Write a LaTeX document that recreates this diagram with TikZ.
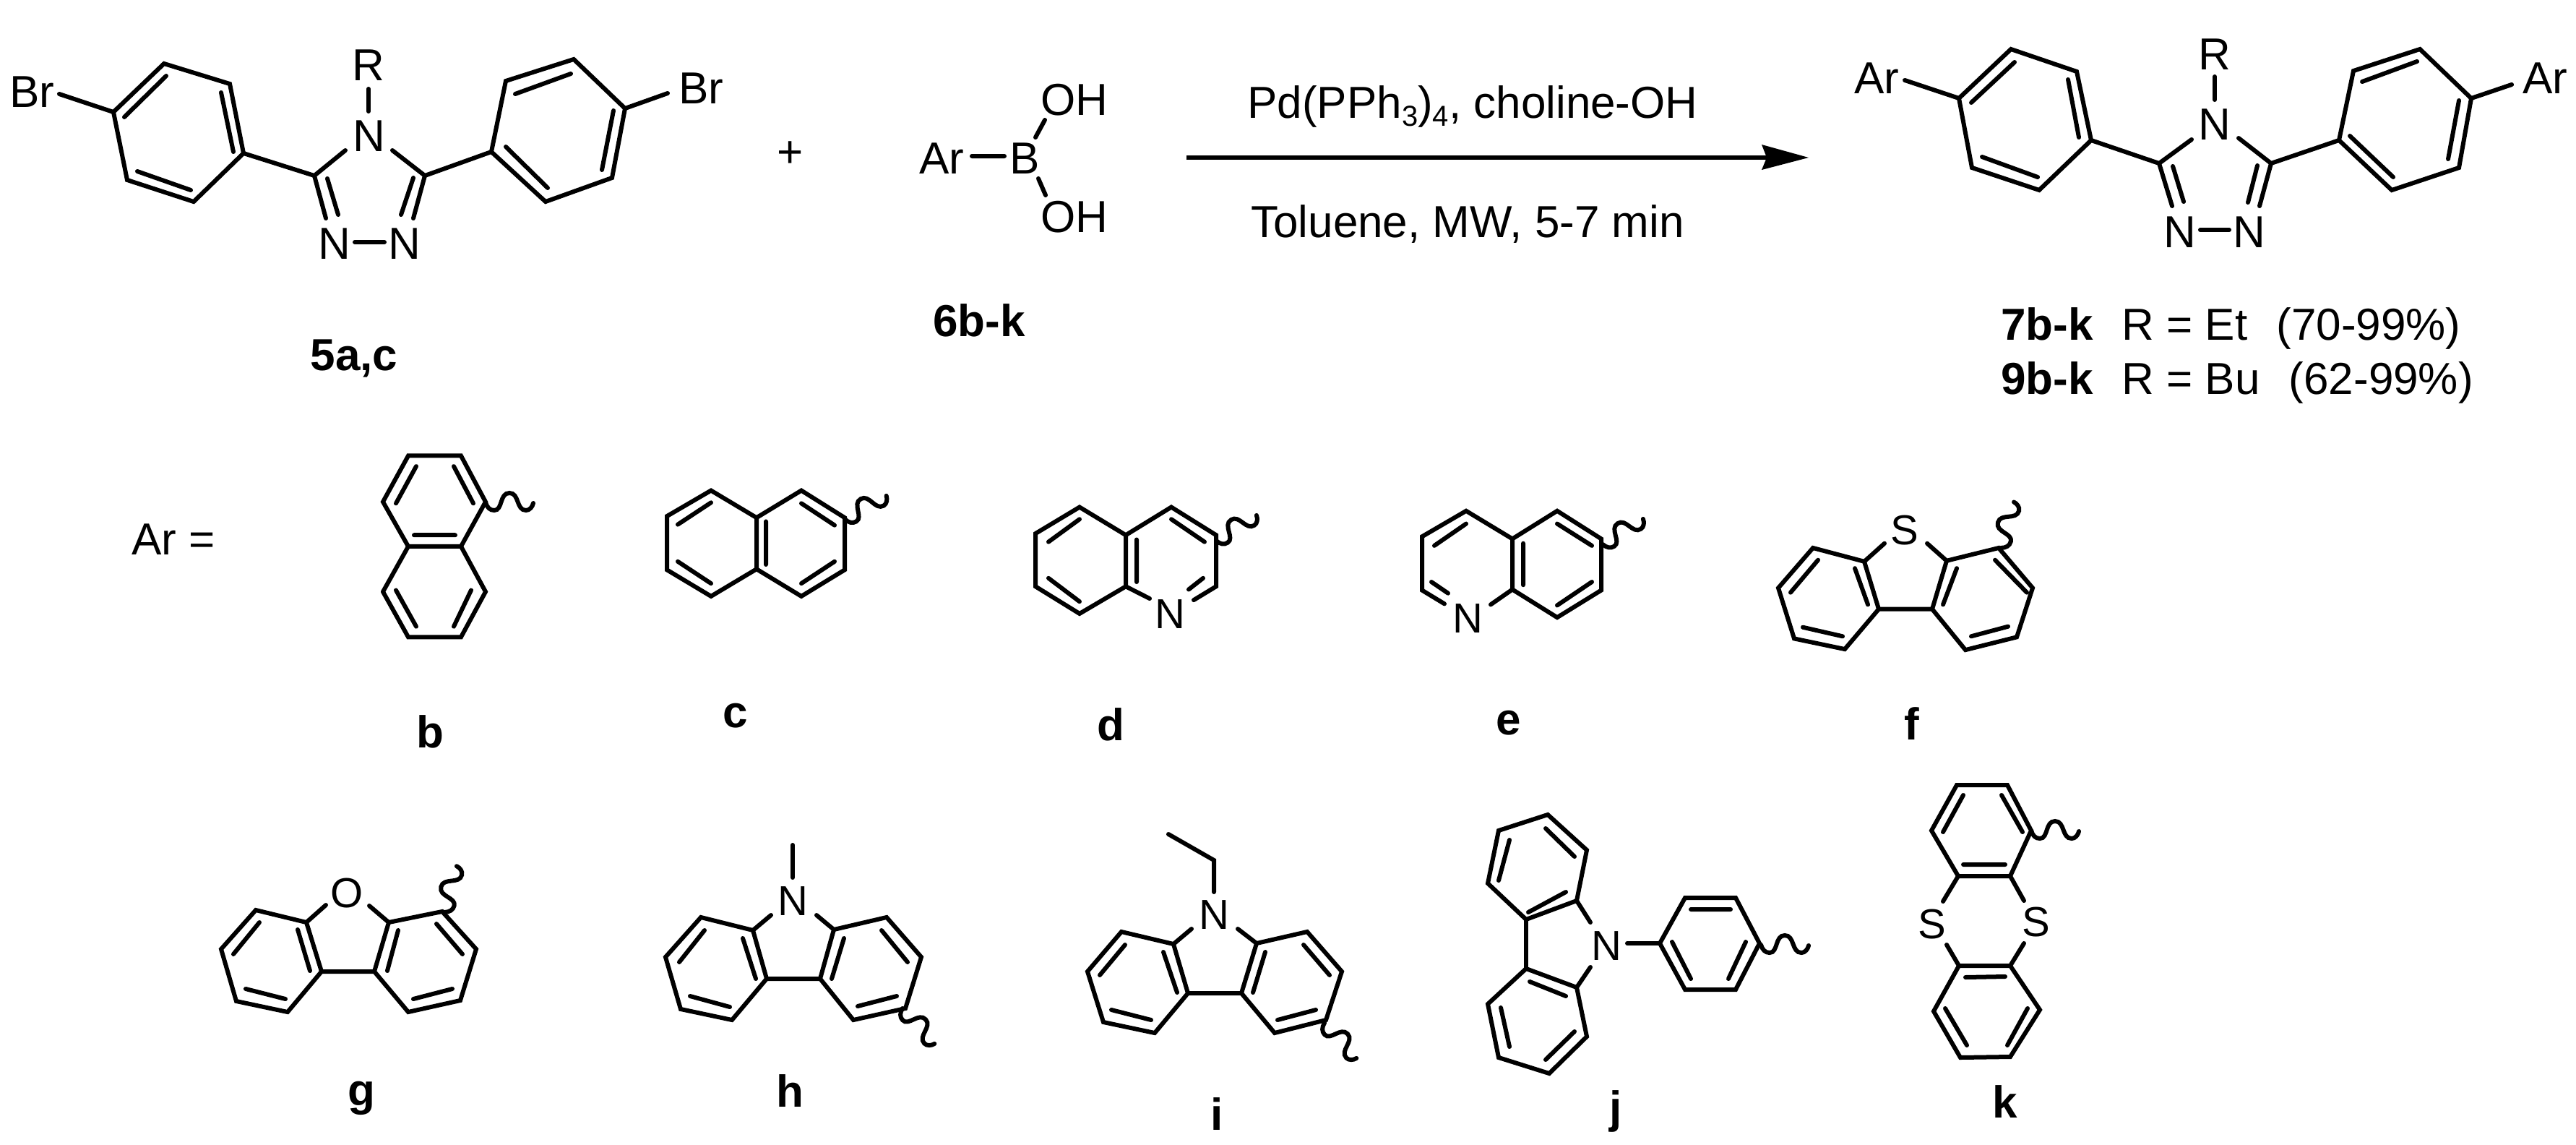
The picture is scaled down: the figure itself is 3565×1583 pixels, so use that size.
\documentclass[tikz,border=0pt]{standalone}
\usepackage{fontspec}
\setmainfont{Liberation Sans}
\newcommand{\fsT}{\fontsize{62}{70}\selectfont}
\newcommand{\fsA}{\fontsize{58}{66}\selectfont}
\newcommand{\fsS}{\fontsize{40}{44}\selectfont}
\newcommand{\lowsub}[1]{\raisebox{-11pt}{\fsS #1}}
\newcommand{\squigat}[3]{\draw[squig,shift={(#1,#2)},rotate=#3] (0,0) .. controls (2,7) and (6,11) .. (12,11) .. controls (24,11) and (19,-13) .. (33,-13) .. controls (47,-13) and (42,11) .. (56,11) .. controls (61,11) and (65,6) .. (66,1);}
\tikzset{
  bond/.style={line width=6pt,line cap=round,line join=miter,miter limit=6,black},
  txt/.style={inner sep=0pt,outer sep=0pt,font=\fsT,anchor=base},
  lbl/.style={inner sep=0pt,outer sep=0pt,font=\fsT\bfseries,anchor=base},
  atom/.style={inner sep=0pt,outer sep=0pt,font=\fsT,anchor=center},
  atoms/.style={inner sep=0pt,outer sep=0pt,font=\fsA,anchor=center},
  squig/.style={line width=6pt,line cap=round,black},
  rowone/.style={yshift=24.86pt,yscale=1.0452}
}
\begin{document}
\begin{tikzpicture}[x=1pt,y=-1pt]
\useasboundingbox (0,0) rectangle (3565,1583);
% ---------- compound 5
\node[atom] (brL) at (44,127) {Br};
\node[atom] (brR) at (970,122) {Br};
\node[atom] (r5) at (510,90) {R};
\node[atom] (n5t) at (511,188) {N};
\node[atom] (n5l) at (463,337) {N};
\node[atom] (n5r) at (560,337) {N};
\node[atom] (plus) at (1094,214) {+};
\node[lbl] (l5) at (490,512) {5a,c};
\draw[bond] (157,155)--(227,88)--(318,116)--(337,212)--(268,279)--(176,249)--cycle;
\draw[bond] (230,105)--(172,162) (306,128)--(323,210) (190,237)--(264,263);
\draw[bond] (680,210)--(700,112)--(794,82)--(865,150)--(847,246)--(755,279)--cycle;
\draw[bond] (713,130)--(790,102) (849,153)--(833,235) (700,203)--(758,260);
\draw[bond] (82,130)--(157,155) (865,150)--(924,129);
\draw[bond] (510,123)--(510,154);
\draw[bond] (337,212)--(435,243)--(478,208) (680,210)--(588,243)--(543,208);
\draw[bond] (435,243)--(451,302) (588,243)--(572,302);
\draw[bond] (453,247)--(468,297) (572,246)--(555,297);
\draw[bond] (491,335)--(532,335);
% ---------- boronic acid
\node[atom] (ar6) at (1303,219) {Ar};
\node[atom] (b6) at (1418,219) {B};
\node[atom] (oh1) at (1487,138) {OH};
\node[atom] (oh2) at (1487,300) {OH};
\node[lbl] (l6) at (1355,465) {6b-k};
\draw[bond] (1345,216)--(1390,216) (1446,166)--(1433,190) (1437,247)--(1447,270);
% ---------- arrow and conditions
\node[txt] (cond1) at (2038,163) {Pd(PPh\lowsub{3})\lowsub{4}, choline-OH};
\node[txt] (cond2) at (2031,328) {Toluene, MW, 5-7 min};
\coordinate (arS) at (1642,218);
\coordinate (arE) at (2448,218);
\draw[line width=6.4pt,black] (arS)--(arE);
\fill[black] (2503,218)--(2438,200)--(2445,218)--(2438,235)--cycle;
% ---------- compound 7/9
\node[atom] (arL) at (2597,108) {Ar};
\node[atom] (arR) at (3522,108) {Ar};
\node[atom] (r7) at (3065,75) {R};
\node[atom] (n7t) at (3065,172) {N};
\node[atom] (n7l) at (3017,321) {N};
\node[atom] (n7r) at (3113,321) {N};
\draw[bond] (2711,136)--(2783,68)--(2874,99)--(2894,194)--(2822,263)--(2729,232)--cycle;
\draw[bond] (2788,86)--(2728,142) (2862,110)--(2877,190) (2743,217)--(2820,245);
\draw[bond] (3237,194)--(3257,98)--(3349,68)--(3420,136)--(3403,232)--(3310,263)--cycle;
\draw[bond] (3269,113)--(3345,85) (3403,139)--(3388,220) (3252,188)--(3312,245);
\draw[bond] (2636,111)--(2711,136) (3420,136)--(3476,117);
\draw[bond] (3065,106)--(3065,138);
\draw[bond] (2894,194)--(2988,226)--(3033,193) (3237,194)--(3143,226)--(3098,191);
\draw[bond] (2988,226)--(3006,285) (3143,226)--(3127,285);
\draw[bond] (3007,230)--(3022,279) (3124,229)--(3111,280);
\draw[bond] (3045,318)--(3085,318);
\node[txt,anchor=base west] (l7) at (2769,470) {\textbf{7b-k}\hspace{40pt}R = Et\hspace{40pt}(70-99\%)};
\node[txt,anchor=base west] (l9) at (2769,545) {\textbf{9b-k}\hspace{40pt}R = Bu\hspace{40pt}(62-99\%)};
% ---------- first row of Ar groups
\begin{scope}[rowone]
\node[txt,anchor=base west] (areq) at (182,758) {Ar =};
% b
\draw[bond] (565,627)--(638,627)--(672,688)--(638,747)--(565,747)--(530,688)--cycle;
\draw[bond] (530,807)--(565,867)--(638,867)--(672,807)--(638,747) (565,747)--(530,807);
\draw[bond] (576,641)--(548,690) (628,641)--(655,690) (573,732)--(630,732) (548,805)--(576,853) (652,805)--(628,853);
\node[lbl] (lb) at (595,1014) {b};
% c
\draw[bond] (984,673)--(1047,709)--(1047,777)--(984,813)--(923,778)--(923,707)--cycle;
\draw[bond] (1047,709)--(1109,673)--(1169,709)--(1169,778)--(1109,813)--(1047,777);
\draw[bond] (938,718)--(984,689) (938,767)--(984,796) (1060,714)--(1060,771) (1109,690)--(1155,719) (1109,796)--(1155,767);
\node[lbl] (lc) at (1018,987) {c};
% d
\node[atoms] (nd) at (1619,837) {N};
\draw[bond] (1494,695)--(1558,732)--(1558,800)--(1494,836)--(1433,800)--(1433,730)--cycle;
\draw[bond] (1558,732)--(1621,695)--(1683,732)--(1683,800)--(1652,818) (1558,800)--(1591,816);
\draw[bond] (1451,741)--(1494,711) (1451,789)--(1494,820) (1573,738)--(1573,794) (1621,711)--(1667,741) (1665,789)--(1645,804);
\node[lbl] (ld) at (1537,1004) {d};
% e
\node[atoms] (ne) at (2031,842) {N};
\draw[bond] (2093,737)--(2155,700)--(2216,737)--(2216,805)--(2155,841)--(2093,804)--cycle;
\draw[bond] (2093,737)--(2029,700)--(1968,734)--(1968,805)--(1999,823) (2093,804)--(2063,824);
\draw[bond] (1985,746)--(2029,717) (1981,794)--(2004,809) (2108,743)--(2108,798) (2155,717)--(2203,746) (2155,825)--(2203,794);
\node[lbl] (le) at (2088,996) {e};
% f
\node[atoms] (sf) at (2636,726) {S};
\draw[bond] (2608,743)--(2580,767)--(2600,830)--(2674,830)--(2694,766)--(2667,743);
\draw[bond] (2580,767)--(2509,749)--(2461,802)--(2483,869)--(2553,883)--(2600,830);
\draw[bond] (2694,766)--(2766,749)--(2813,802)--(2791,867)--(2720,884)--(2674,830);
\draw[bond] (2516,765)--(2478,808) (2567,776)--(2585,824) (2708,776)--(2689,824) (2761,765)--(2805,808) (2495,854)--(2550,866) (2728,866)--(2779,853);
\node[lbl] (lf) at (2646,1003) {f};
\end{scope}
\squigat{672}{695}{0}
\squigat{1169}{718}{30}
\squigat{1683}{748}{33}
\squigat{2218}{753}{33}
\squigat{2769}{758}{75}
% ---------- g
\node[atoms] (og) at (480,1236) {O};
\draw[bond] (451,1252)--(424,1276)--(445,1344)--(518,1344)--(538,1276)--(511,1253);
\draw[bond] (424,1276)--(354,1259)--(306,1313)--(327,1385)--(398,1400)--(445,1344);
\draw[bond] (538,1276)--(612,1261)--(659,1313)--(637,1384)--(565,1400)--(518,1344);
\draw[bond] (359,1276)--(323,1320) (412,1286)--(429,1343) (551,1287)--(536,1343) (604,1278)--(640,1320) (340,1368)--(395,1382) (572,1382)--(626,1368);
\squigat{615}{1262}{76}
\node[lbl] (lg) at (500,1529) {g};
% ---------- h
\node[atoms] (nh) at (1097,1247) {N};
\draw[bond] (1097,1169)--(1097,1214);
\draw[bond] (1067,1266)--(1042,1287)--(1061,1354)--(1135,1354)--(1154,1286)--(1130,1266);
\draw[bond] (1042,1287)--(970,1269)--(921,1324)--(942,1396)--(1013,1411)--(1061,1354);
\draw[bond] (1154,1286)--(1227,1269)--(1275,1324)--(1253,1395)--(1181,1411)--(1135,1354);
\draw[bond] (975,1287)--(940,1331) (1028,1298)--(1046,1354) (1168,1298)--(1151,1354) (1220,1287)--(1256,1331) (955,1378)--(1010,1393) (1187,1392)--(1241,1378);
\squigat{1249}{1395}{-47}
\node[lbl] (lh) at (1093,1531) {h};
% ---------- i
\node[atoms] (ni) at (1680,1266) {N};
\draw[bond] (1617,1154)--(1680,1190)--(1680,1234);
\draw[bond] (1649,1285)--(1624,1306)--(1644,1374)--(1718,1374)--(1739,1305)--(1713,1285);
\draw[bond] (1624,1306)--(1552,1289)--(1505,1344)--(1527,1414)--(1598,1429)--(1644,1374);
\draw[bond] (1739,1305)--(1809,1289)--(1857,1344)--(1835,1411)--(1764,1429)--(1718,1374);
\draw[bond] (1557,1307)--(1522,1349) (1610,1317)--(1629,1373) (1751,1317)--(1734,1373) (1804,1307)--(1840,1349) (1538,1397)--(1593,1411) (1768,1411)--(1821,1397);
\squigat{1833}{1415}{-47}
\node[lbl] (li) at (1684,1563) {i};
% ---------- j
\node[atoms] (nj) at (2223,1309) {N};
\draw[bond] (2201,1276)--(2182,1246)--(2112,1272)--(2059,1222)--(2074,1149)--(2142,1127)--(2196,1176)--(2182,1246);
\draw[bond] (2201,1338)--(2182,1366)--(2112,1340)--(2059,1389)--(2074,1463)--(2144,1485)--(2196,1434)--(2182,1366);
\draw[bond] (2112,1272)--(2112,1340);
\draw[bond] (2115,1262)--(2167,1234) (2074,1218)--(2089,1162) (2139,1146)--(2179,1185) (2117,1358)--(2167,1378) (2139,1466)--(2179,1427) (2077,1394)--(2089,1448);
\draw[bond] (2252,1305)--(2297,1305);
\draw[bond] (2297,1305)--(2332,1242)--(2402,1242)--(2435,1305)--(2402,1369)--(2332,1369)--cycle;
\draw[bond] (2340,1258)--(2395,1258) (2314,1303)--(2340,1354) (2416,1303)--(2392,1354);
\squigat{2437}{1307}{0}
\node[lbl] (lj) at (2236,1553) {j};
% ---------- k
\node[atoms] (skl) at (2674,1279) {S};
\node[atoms] (skr) at (2818,1276) {S};
\draw[bond] (2708,1086)--(2778,1086)--(2811,1149)--(2782,1212)--(2710,1212)--(2673,1149)--cycle;
\draw[bond] (2710,1212)--(2689,1247) (2782,1212)--(2801,1246);
\draw[bond] (2711,1336)--(2694,1307) (2782,1336)--(2801,1305);
\draw[bond] (2711,1336)--(2782,1336)--(2823,1397)--(2782,1462)--(2713,1463)--(2676,1399)--cycle;
\draw[bond] (2717,1100)--(2689,1151) (2770,1100)--(2799,1151) (2717,1196)--(2775,1196) (2720,1352)--(2775,1351) (2692,1395)--(2722,1446) (2806,1395)--(2778,1446);
\squigat{2811}{1149}{0}
\node[lbl] (lk) at (2775,1546) {k};
\end{tikzpicture}
\end{document}
